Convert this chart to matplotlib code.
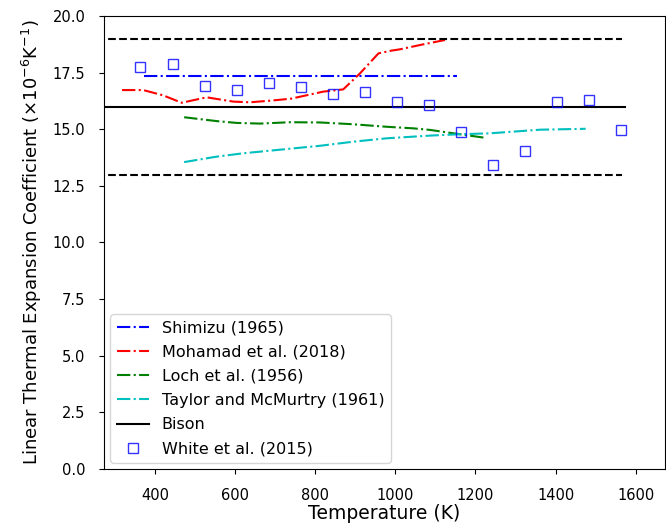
import matplotlib
matplotlib.use("Agg")
import matplotlib.pyplot as plt

# Data
shimizu_T = [372, 1154]
shimizu_v = [17.35, 17.35]

mohamad_T = [318, 371, 420, 467, 529, 596, 637, 687, 740, 820, 870, 912, 958, 990, 1012, 1070, 1124]
mohamad_v = [16.73, 16.73, 16.5, 16.17, 16.41, 16.22, 16.19, 16.26, 16.35, 16.66, 16.76, 17.47, 18.35, 18.47, 18.53, 18.75, 18.94]

loch_T = [473, 554, 604, 662, 737, 812, 895, 978, 1045, 1087, 1145, 1221]
loch_v = [15.53, 15.36, 15.28, 15.25, 15.31, 15.30, 15.22, 15.11, 15.04, 14.97, 14.82, 14.63]

taylor_T = [473, 554, 621, 679, 812, 895, 978, 1087, 1161, 1236, 1361, 1475]
taylor_v = [13.55, 13.79, 13.94, 14.04, 14.27, 14.45, 14.60, 14.72, 14.78, 14.82, 14.98, 15.02]

bison_T = [200, 1574]
bison_v = [16.0, 16.0]
bound_T = [200, 1565]
bound_upper = [19.0, 19.0]
bound_lower = [13.0, 13.0]

white_T = [364, 444, 524, 604, 684, 764, 844, 924, 1004, 1084, 1164, 1244, 1324, 1404, 1484, 1564]
white_v = [17.73, 17.87, 16.92, 16.73, 17.03, 16.87, 16.54, 16.64, 16.19, 16.07, 14.88, 13.41, 14.04, 16.19, 16.28, 14.98]

xticks = [400, 600, 800, 1000, 1200, 1400, 1600]

fig = plt.figure(figsize=(6.66, 5.29), dpi=100)
ax = fig.add_axes([104/666, 1-469/529, (665-104)/666, (469-16)/529])

ax.plot(shimizu_T, shimizu_v, 'b-.', lw=1.5, label='Shimizu (1965)')
ax.plot(mohamad_T, mohamad_v, 'r-.', lw=1.5, label='Mohamad et al. (2018)')
ax.plot(loch_T, loch_v, 'g-.', lw=1.5, label='Loch et al. (1956)')
ax.plot(taylor_T, taylor_v, 'c-.', lw=1.5, label='Taylor and McMurtry (1961)')
ax.plot(bison_T, bison_v, 'k-', lw=1.5, label='Bison')
ax.plot(bound_T, bound_upper, 'k--', lw=1.5)
ax.plot(bound_T, bound_lower, 'k--', lw=1.5)
ax.plot(white_T, white_v, 's', mfc='none', mec='b', mew=1.0, ms=7, alpha=0.8,
        label='White et al. (2015)')

ax.set_xlim(273, 1673)
ax.set_ylim(0, 20)
ax.set_xticks(xticks)
ax.tick_params(axis='x', labelsize=10.5, pad=10)
ax.tick_params(axis='y', labelsize=10.5, pad=10)
ax.set_xlabel('Temperature (K)', fontsize=13.5, labelpad=1)
ax.set_ylabel(r'Linear Thermal Expansion Coefficient ($\times 10^{-6}$K$^{-1}$)',
              fontsize=13, labelpad=6)
ax.legend(loc='lower left', fontsize=11.5, borderaxespad=0.4, labelspacing=0.57)

fig.savefig('out.png', dpi=100)
